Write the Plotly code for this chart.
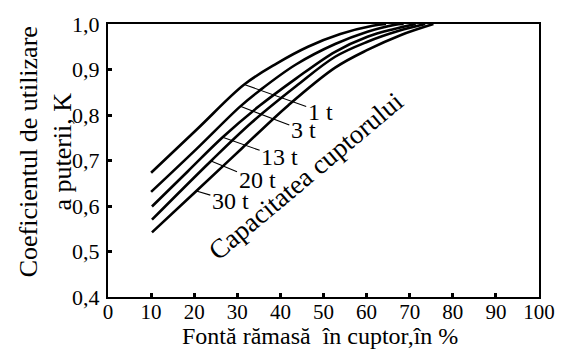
import plotly.graph_objects as go

# ---- data ----
capacities = ["1 t", "3 t", "13 t", "20 t", "30 t"]

x_1t = [10.0, 20.9, 31.6, 39.1, 46.4, 53.9, 61.4, 64.5]
k_1t = [0.673, 0.771, 0.867, 0.913, 0.950, 0.978, 0.996, 1.0]

x_3t = [10.0, 20.5, 30.7, 35.2, 43.6, 52.7, 60.2, 66.4, 68.6]
k_3t = [0.631, 0.725, 0.819, 0.854, 0.911, 0.956, 0.983, 0.998, 1.0]

x_13t = [10.2, 18.6, 26.6, 35.0, 43.6, 52.7, 60.2, 66.4, 71.4]
k_13t = [0.599, 0.677, 0.751, 0.819, 0.880, 0.939, 0.972, 0.989, 1.0]

x_20t = [10.2, 23.9, 33.4, 43.6, 52.7, 60.2, 67.5, 73.6]
k_20t = [0.570, 0.699, 0.784, 0.863, 0.928, 0.961, 0.985, 1.0]

x_30t = [10.2, 20.5, 31.1, 41.8, 52.7, 60.2, 68.0, 75.5]
k_30t = [0.542, 0.633, 0.727, 0.821, 0.904, 0.943, 0.976, 1.0]

# point on each curve where its label leader starts
leader_x = [31.6, 30.7, 26.6, 23.9, 20.5]
leader_k = [0.867, 0.819, 0.751, 0.699, 0.633]

x_tickvals = [0, 10, 20, 30, 40, 50, 60, 70, 80, 90, 100]
x_ticktext = ["0", "10", "20", "30", "40", "50", "60", "70", "80", "90", "100"]
y_tickvals = [0.4, 0.5, 0.6, 0.7, 0.8, 0.9, 1.0]
y_ticktext = ["0,4", "0,5", "0,6", "0,7", "0,8", "0,9", "1,0"]

FONT = "Liberation Serif, Times New Roman, serif"

series = [(x_1t, k_1t), (x_3t, k_3t), (x_13t, k_13t), (x_20t, k_20t), (x_30t, k_30t)]

fig = go.Figure()
for name, (xs, ks) in zip(capacities, series):
    fig.add_trace(go.Scatter(
        x=xs, y=ks, mode="lines", name=name,
        line=dict(color="black", width=2.6, shape="spline", smoothing=1.0),
        showlegend=False, hoverinfo="skip"))

# label offsets (pixels from curve point to text centre)
offsets = [(76, 27), (63, 24), (57, 20), (46, 19), (34, 10)]
for name, lx, lk, (ax, ay) in zip(capacities, leader_x, leader_k, offsets):
    fig.add_annotation(x=lx, y=lk, xref="x", yref="y", text=name,
                       showarrow=True, arrowhead=0, arrowwidth=1.1,
                       arrowcolor="black", ax=ax, ay=ay, standoff=0,
                       font=dict(family=FONT, size=24, color="black"))

fig.add_annotation(x=45.9, y=0.666, xref="x", yref="y",
                   text="Capacitatea cuptorului", textangle=-40,
                   showarrow=False, xanchor="center", yanchor="middle",
                   font=dict(family=FONT, size=27, color="black"))

fig.add_annotation(x=(44 - 108) / 440, y=(297 - 151) / 275, xref="paper", yref="paper",
                   text="Coeficientul de utilizare<br>a puterii, K", textangle=-90,
                   showarrow=False, xanchor="center", yanchor="middle",
                   font=dict(family=FONT, size=26, color="black"))

fig.add_annotation(x=(324 - 108) / 440, y=(297 - 350) / 275, xref="paper", yref="paper",
                   text="Fontă rămasă\u00a0 în cuptor,în %",
                   showarrow=False, xanchor="center", yanchor="bottom", borderpad=0,
                   font=dict(family=FONT, size=24, color="black"))

axis_common = dict(showgrid=False, zeroline=False, showline=True, linecolor="black",
                   linewidth=2, mirror=True, ticks="inside", ticklen=4, tickwidth=2.5,
                   tickcolor="black")

fig.update_xaxes(range=[0, 100], tickvals=x_tickvals, ticktext=x_ticktext,
                 ticklabelstandoff=-5, tickfont=dict(family=FONT, size=21, color="black"),
                 **axis_common)
fig.update_yaxes(range=[0.4, 1.0], tickvals=y_tickvals, ticktext=y_ticktext,
                 ticklabelstandoff=2, tickfont=dict(family=FONT, size=22, color="black"),
                 **axis_common)

fig.update_layout(width=567, height=349, margin=dict(l=108, r=19, t=22, b=52),
                  paper_bgcolor="white", plot_bgcolor="white",
                  font=dict(family=FONT, color="black"))

fig.write_html("out.html", config={"displayModeBar": False},
               post_script="document.body.style.margin='0';document.body.style.padding='0';")
